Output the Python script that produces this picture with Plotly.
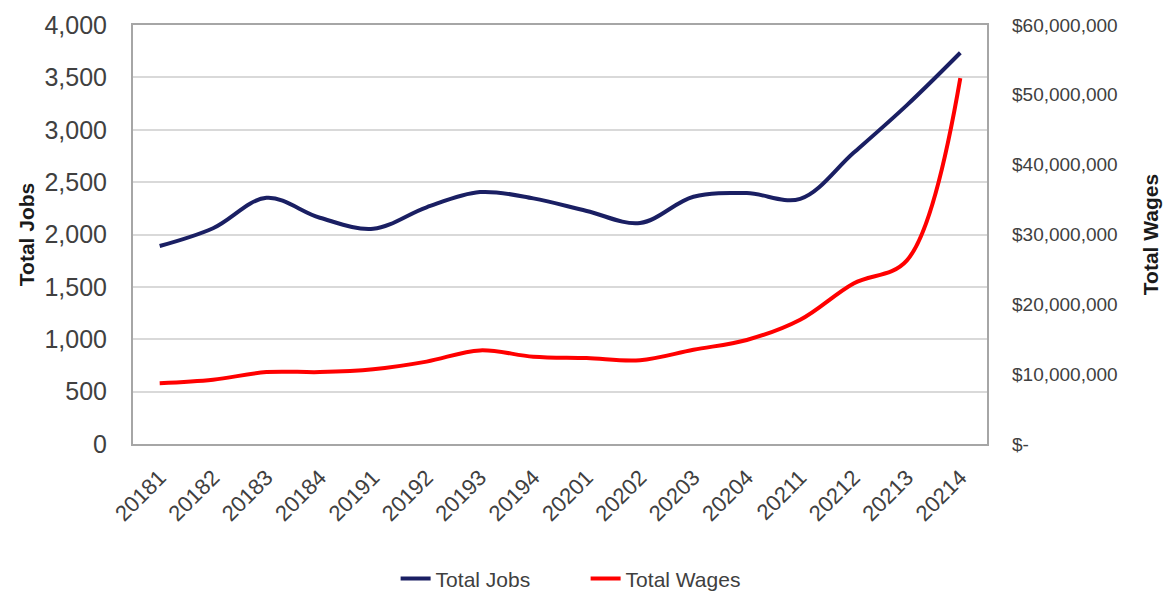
import plotly.graph_objects as go

# Quarterly periods (year + quarter)
quarters = ["20181", "20182", "20183", "20184", "20191", "20192", "20193", "20194",
            "20201", "20202", "20203", "20204", "20211", "20212", "20213", "20214"]

total_jobs = [1890, 2060, 2350, 2160, 2055, 2260, 2405, 2345,
              2225, 2110, 2360, 2395, 2340, 2780, 3235, 3735]

total_wages = [8.7e6, 9.2e6, 10.3e6, 10.3e6, 10.7e6, 11.8e6, 13.4e6, 12.5e6,
               12.3e6, 12.0e6, 13.5e6, 14.9e6, 17.8e6, 23.0e6, 26.3e6, 52.4e6]

jobs_ticks = list(range(0, 4001, 500))
wage_ticks = [0, 10e6, 20e6, 30e6, 40e6, 50e6, 60e6]
wage_tick_text = ["$-", "$10,000,000", "$20,000,000", "$30,000,000",
                  "$40,000,000", "$50,000,000", "$60,000,000"]

FONT = "Liberation Sans, Arial, sans-serif"
TEXT = "#404040"

fig = go.Figure()
fig.add_trace(go.Scatter(
    x=quarters, y=total_jobs, name="Total Jobs", mode="lines",
    line=dict(color="#1a1f63", width=4, shape="spline", smoothing=1.0),
    yaxis="y",
))
fig.add_trace(go.Scatter(
    x=quarters, y=total_wages, name="Total Wages", mode="lines",
    line=dict(color="#ff0000", width=4, shape="spline", smoothing=1.0),
    yaxis="y2",
))

fig.update_layout(
    width=1168, height=592,
    margin=dict(l=133, r=181, t=25, b=148, autoexpand=False),
    paper_bgcolor="white", plot_bgcolor="white",
    font=dict(family=FONT, color=TEXT),
    showlegend=True,
    legend=dict(orientation="h", x=0.53, xanchor="center", y=-0.322, yanchor="middle",
                font=dict(size=21, color=TEXT), itemwidth=30, tracegroupgap=0,
                entrywidth=145),
    xaxis=dict(
        type="category", range=[-0.5, len(quarters) - 0.5], automargin=False,
        tickangle=-45, tickfont=dict(size=22, color=TEXT),
        showgrid=False, showline=True, linecolor="#a6a6a6", linewidth=2,
        mirror=True, ticks="", ticklabelstandoff=10,
    ),
    yaxis=dict(
        range=[0, 4000], tickvals=jobs_ticks, tickformat=",", automargin=False,
        tickfont=dict(size=25, color=TEXT),
        showgrid=True, gridcolor="#d9d9d9", gridwidth=2,
        showline=True, linecolor="#a6a6a6", linewidth=2, mirror=True,
        ticks="", ticklabelstandoff=19, zeroline=False,
        title=dict(text="<b>Total Jobs</b>", font=dict(size=21, color="#1a1a1a"),
                   standoff=4),
    ),
    yaxis2=dict(
        range=[0, 60e6], tickvals=wage_ticks, ticktext=wage_tick_text, automargin=False,
        overlaying="y", side="right", tickfont=dict(size=19, color=TEXT),
        showgrid=False, zeroline=False, ticks="", ticklabelstandoff=24,
        title=dict(text="<b>Total Wages</b>", font=dict(size=21, color="#1a1a1a"),
                   standoff=26),
    ),
)

fig.write_html("out.html")
